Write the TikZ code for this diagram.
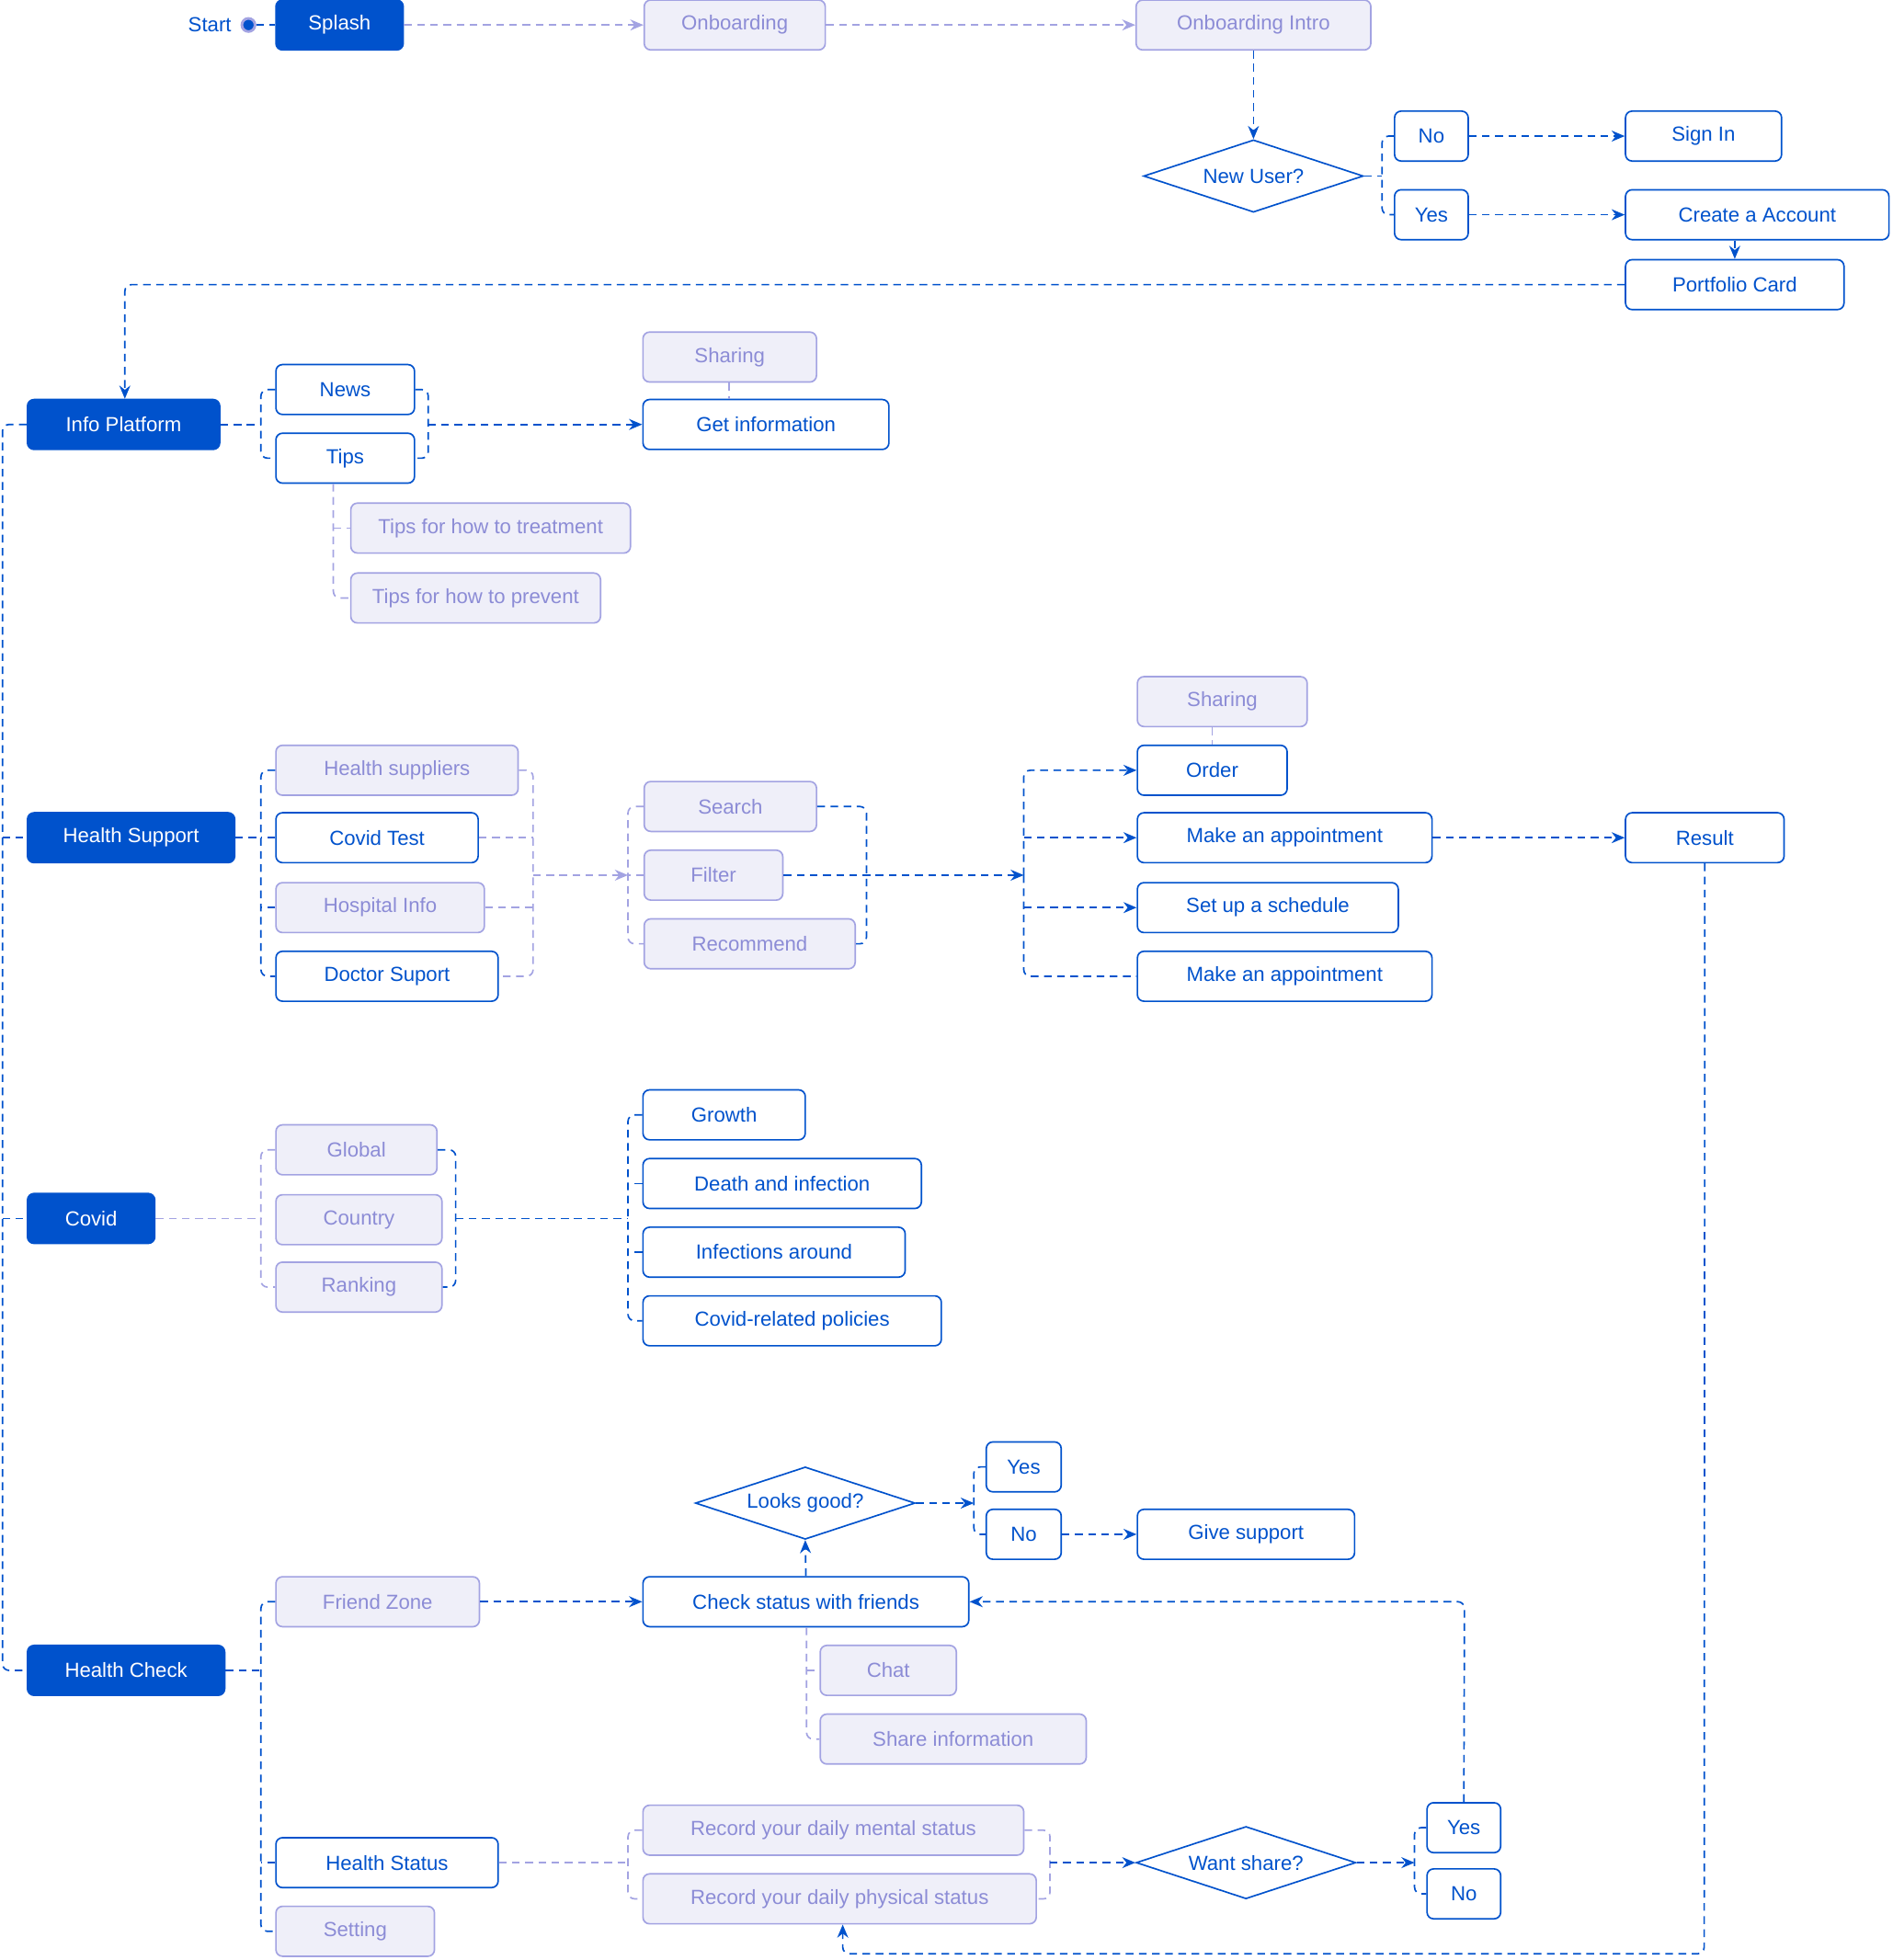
\documentclass[tikz,border=0pt]{standalone}
\usepackage{fontspec}
\setmainfont{Liberation Sans}
\usetikzlibrary{shapes.geometric,arrows.meta}
\definecolor{bl}{HTML}{0052CC}
\definecolor{lvf}{HTML}{EFEFF9}
\definecolor{lvd}{HTML}{A3A3E2}
\definecolor{lvt}{HTML}{8C8CD6}
\newcommand\bx[6]{\pgfmathsetmacro\cx{(#3+#4)/2}\pgfmathsetmacro\ww{(#4-#3)*0.02}\node[#1,minimum width=\ww cm] (#2) at (\cx,#5) {#6};}
\begin{document}
\begin{tikzpicture}[x=0.02cm,y=-0.02cm,
 every node/.style={font=\fontsize{9.3}{11}\selectfont},
 base/.style={rectangle,rounded corners=3pt,minimum height=0.8cm,inner sep=0pt,line width=0.7pt},
 dk/.style={base,fill=bl,draw=bl,text=white},
 bx/.style={base,fill=white,draw=bl,text=bl},
 lt/.style={base,fill=lvf,draw=lvd,text=lvt},
 dm/.style={diamond,draw=bl,text=bl,line width=0.7pt,inner sep=0pt,minimum width=3.52cm,minimum height=1.16cm,aspect=3},
 bd/.style={draw=bl,line width=0.7pt,dash pattern=on 3.5pt off 2.5pt,rounded corners=3pt},
 ld/.style={draw=lvd,line width=0.7pt,dash pattern=on 3.5pt off 2.5pt,rounded corners=3pt},
 ar/.style={-{Stealth[length=6pt,width=5pt]}}]
\useasboundingbox (0,0) rectangle (1516,1570);
% nodes
\node[text=bl] (start) at (168,20) {Start};
\node[circle,fill=bl,draw=lvd,line width=1.2pt,inner sep=0pt,minimum size=6pt] (dot) at (199,20) {};
\bx{dk}{splash}{221}{323}{20}{Splash}
\bx{lt}{onb}{516}{661}{20}{Onboarding}
\bx{lt}{onbi}{910}{1098}{20}{Onboarding Intro}
\node[dm] (nu) at (1004,141) {New User?};
\bx{bx}{no1}{1117}{1176}{109}{No}
\bx{bx}{yes1}{1117}{1176}{172}{Yes}
\bx{bx}{signin}{1302}{1427}{109}{Sign In}
\bx{bx}{create}{1302}{1513}{172}{Create a Account}
\bx{bx}{port}{1302}{1477}{228}{Portfolio Card}
\bx{dk}{ip}{22}{176}{340}{Info Platform}
\bx{bx}{news}{221}{332}{312}{News}
\bx{bx}{tips}{221}{332}{367}{Tips}
\bx{lt}{sh1}{515}{654}{286}{Sharing}
\bx{bx}{getinfo}{515}{712}{340}{Get information}
\bx{lt}{tt}{281}{505}{423}{Tips for how to treatment}
\bx{lt}{tp}{281}{481}{479}{Tips for how to prevent}
\bx{dk}{hs}{22}{188}{671}{Health Support}
\bx{lt}{hsup}{221}{415}{617}{Health suppliers}
\bx{bx}{ct}{221}{383}{671}{Covid Test}
\bx{lt}{hinfo}{221}{388}{727}{Hospital Info}
\bx{bx}{doc}{221}{399}{782}{Doctor Suport}
\bx{lt}{search}{516}{654}{646}{Search}
\bx{lt}{filter}{516}{627}{701}{Filter}
\bx{lt}{rec}{516}{685}{756}{Recommend}
\bx{lt}{sh2}{911}{1047}{562}{Sharing}
\bx{bx}{order}{911}{1031}{617}{Order}
\bx{bx}{ma1}{911}{1147}{671}{Make an appointment}
\bx{bx}{sched}{911}{1120}{727}{Set up a schedule}
\bx{bx}{ma2}{911}{1147}{782}{Make an appointment}
\bx{bx}{result}{1302}{1429}{671}{Result}
\bx{dk}{cov}{22}{124}{976}{Covid}
\bx{lt}{glob}{221}{350}{921}{Global}
\bx{lt}{ctry}{221}{354}{977}{Country}
\bx{lt}{rank}{221}{354}{1031}{Ranking}
\bx{bx}{grow}{515}{645}{893}{Growth}
\bx{bx}{death}{515}{738}{948}{Death and infection}
\bx{bx}{inf}{515}{725}{1003}{Infections around}
\bx{bx}{pol}{515}{754}{1058}{Covid-related policies}
\bx{dk}{hc}{22}{180}{1338}{Health Check}
\bx{lt}{fz}{221}{384}{1283}{Friend Zone}
\bx{bx}{hst}{221}{399}{1492}{Health Status}
\bx{lt}{set}{221}{348}{1547}{Setting}
\bx{bx}{csf}{515}{776}{1283}{Check status with friends}
\node[dm] (lg) at (645,1204) {Looks good?};
\bx{bx}{yes2}{790}{850}{1175}{Yes}
\bx{bx}{no2}{790}{850}{1229}{No}
\bx{bx}{give}{911}{1085}{1229}{Give support}
\bx{lt}{chat}{657}{766}{1338}{Chat}
\bx{lt}{shi}{657}{870}{1393}{Share information}
\bx{lt}{rm}{515}{820}{1466}{Record your daily mental status}
\bx{lt}{rp}{515}{830}{1521}{Record your daily physical status}
\node[dm] (ws) at (998,1492) {Want share?};
\bx{bx}{yes3}{1143}{1202}{1464}{Yes}
\bx{bx}{no3}{1143}{1202}{1517}{No}
% connectors
\draw[bd] (dot) -- (splash);
\draw[ld,ar] (splash) -- (onb);
\draw[ld,ar] (onb) -- (onbi);
\draw[bd,ar] (onbi.south) -- (nu.north);
\draw[bd] (nu.east) -- (1107,141);
\draw[bd] (no1.west) -- (1107,109) -- (1107,172) -- (yes1.west);
\draw[bd,ar] (no1) -- (signin);
\draw[bd,ar] (yes1) -- (create);
\draw[bd,ar] (create.south -| port.north) -- (port.north);
\draw[bd,ar] (port.west) -- (100,228) -- (ip.north -| 100,0);
\draw[bd] (ip.west) -- (2,340) -- (2,1338) -- (hc.west);
\draw[bd] (2,671) -- (hs.west);
\draw[bd] (2,976) -- (cov.west);
% info platform
\draw[bd] (ip.east) -- (209,340);
\draw[bd] (news.west) -- (209,312) -- (209,367) -- (tips.west);
\draw[bd] (news.east) -- (343,312) -- (343,367) -- (tips.east);
\draw[bd,ar] (343,340) -- (getinfo.west);
\draw[ld] (sh1.south -| 584,0) -- (getinfo.north -| 584,0);
\draw[ld] (tips.south -| 267,0) -- (267,479) -- (tp.west);
\draw[ld] (267,423) -- (tt.west);
% health support
\draw[bd] (hs.east) -- (209,671);
\draw[bd] (hsup.west) -- (209,617) -- (209,782) -- (doc.west);
\draw[bd] (ct.west) -- (209,671);
\draw[bd] (hinfo.west) -- (209,727);
\draw[ld] (hsup.east) -- (427,617) -- (427,782) -- (doc.east);
\draw[ld] (ct.east) -- (427,671);
\draw[ld] (hinfo.east) -- (427,727);
\draw[ld,ar] (427,701) -- (503,701);
\draw[ld] (search.west) -- (503,646) -- (503,756) -- (rec.west);
\draw[ld] (filter.west) -- (503,701);
\draw[bd] (search.east) -- (694,646) -- (694,756) -- (rec.east);
\draw[bd,ar] (filter.east) -- (820,701);
\draw[bd,ar] (820,701) -- (820,617) -- (order.west);
\draw[bd] (820,701) -- (820,782) -- (ma2.west);
\draw[bd,ar] (820,671) -- (ma1.west);
\draw[bd,ar] (820,727) -- (sched.west);
\draw[ld] (sh2.south -| 971,0) -- (order.north -| 971,0);
\draw[bd,ar] (ma1) -- (result);
\draw[bd,ar] (result.south) -- (1365,1565) -- (675,1565) -- (rp.south -| 675,0);
% covid
\draw[ld] (cov.east) -- (209,976);
\draw[ld] (glob.west) -- (209,921) -- (209,1031) -- (rank.west);
\draw[bd] (glob.east) -- (365,921) -- (365,1031) -- (rank.east);
\draw[bd] (365,976) -- (503,976);
\draw[bd] (grow.west) -- (503,893) -- (503,1058) -- (pol.west);
\draw[bd] (death.west) -- (503,948);
\draw[bd] (inf.west) -- (503,1003);
% health check
\draw[bd] (hc.east) -- (209,1338);
\draw[bd] (fz.west) -- (209,1283) -- (209,1547) -- (set.west);
\draw[bd] (hst.west) -- (209,1492);
\draw[bd,ar] (fz) -- (csf);
\draw[bd,ar] (csf.north) -- (lg.south);
\draw[bd,ar] (lg.east) -- (780,1204);
\draw[bd] (yes2.west) -- (780,1175) -- (780,1229) -- (no2.west);
\draw[bd,ar] (no2) -- (give);
\draw[ld] (csf.south -| 646,0) -- (646,1393) -- (shi.west);
\draw[ld] (646,1338) -- (chat.west);
\draw[ld] (hst.east) -- (503,1492);
\draw[ld] (rm.west) -- (503,1466) -- (503,1521) -- (rp.west);
\draw[ld] (rm.east) -- (841,1466) -- (841,1521) -- (rp.east);
\draw[bd,ar] (841,1492) -- (ws.west);
\draw[bd,ar] (ws.east) -- (1133,1492);
\draw[bd] (yes3.west) -- (1133,1464) -- (1133,1517) -- (no3.west);
\draw[bd,ar] (yes3.north) -- (1173,1283) -- (csf.east);
\end{tikzpicture}
\end{document}
